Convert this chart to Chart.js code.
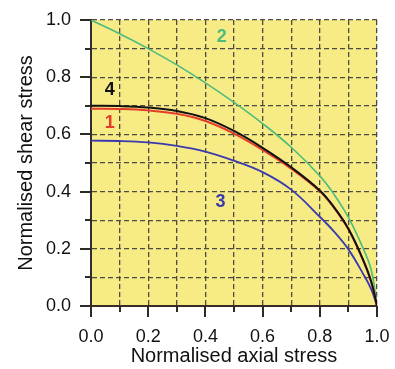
<!DOCTYPE html>
<html>
<head>
<meta charset="utf-8">
<script src="https://cdn.jsdelivr.net/npm/chart.js@4/dist/chart.umd.min.js"></script>
<style>
  body { margin: 0; background: #fff; }
</style>
</head>
<body>
<canvas id="stressChart" width="395" height="369"></canvas>
<script>
// axial stress samples, shared by every curve
const axial = [0, 0.1, 0.2, 0.3, 0.4, 0.5, 0.6, 0.7, 0.8, 0.85, 0.9, 0.95, 0.98, 1.0];

// shear stress for each criterion (curves 1..4)
const shear1 = [0.69, 0.689, 0.684, 0.672, 0.647, 0.603, 0.546, 0.48, 0.401, 0.343, 0.268, 0.163, 0.083, 0];
const shear2 = [1.0, 0.952, 0.900, 0.843, 0.780, 0.712, 0.638, 0.555, 0.455, 0.39, 0.31, 0.205, 0.125, 0];
const shear3 = [0.578, 0.577, 0.572, 0.560, 0.540, 0.508, 0.468, 0.407, 0.312, 0.26, 0.198, 0.115, 0.058, 0];
const shear4 = [0.70, 0.699, 0.694, 0.682, 0.657, 0.612, 0.553, 0.485, 0.404, 0.345, 0.27, 0.165, 0.085, 0];

const curveNames = ['1', '2', '3', '4'];
const curveColors = ['#e63d2a', '#4dbb7c', '#3a3aae', '#111111'];

// where each curve number is written (axis units)
const tagX = [0.066, 0.457, 0.453, 0.066];
const tagY = [0.639, 0.94, 0.364, 0.754];

const FONT = "'Liberation Sans', Arial, sans-serif";

function toPoints(ys) {
  return axial.map((x, i) => ({ x: x, y: ys[i] }));
}

function isMajor(v) {
  return Math.round(v * 10) % 2 === 0;
}

// keep the plot box fixed, labels may overhang into the margins
function fixBox(size, isX) {
  return s => {
    if (isX) s.height = size; else s.width = size;
    s.paddingLeft = s.paddingRight = s.paddingTop = s.paddingBottom = 0;
  };
}

// yellow plot area
const plotBackground = {
  id: 'plotBackground',
  beforeDraw(chart) {
    const { ctx, chartArea: a } = chart;
    ctx.save();
    ctx.fillStyle = '#f7eb86';
    ctx.fillRect(a.left, a.top, a.right - a.left, a.bottom - a.top);
    ctx.restore();
  }
};

// long ticks on 0.2 steps, short ones between
const tickMarks = {
  id: 'tickMarks',
  afterDraw(chart) {
    const { ctx, chartArea: a } = chart;
    const xs = chart.scales.x, ys = chart.scales.y;
    ctx.save();
    ctx.strokeStyle = '#2e2a26';
    ctx.lineWidth = 2;
    ctx.beginPath();
    xs.ticks.forEach(t => {
      const px = Math.round(xs.getPixelForValue(t.value));
      ctx.moveTo(px, a.bottom);
      ctx.lineTo(px, a.bottom + (isMajor(t.value) ? 11 : 6));
    });
    ys.ticks.forEach(t => {
      const py = Math.round(ys.getPixelForValue(t.value));
      ctx.moveTo(a.left, py);
      ctx.lineTo(a.left - (isMajor(t.value) ? 11 : 6), py);
    });
    ctx.stroke();
    ctx.restore();
  }
};

// curve numbers
const curveTags = {
  id: 'curveTags',
  afterDatasetsDraw(chart) {
    const { ctx } = chart;
    const xs = chart.scales.x, ys = chart.scales.y;
    ctx.save();
    ctx.font = 'bold 18px ' + FONT;
    ctx.textAlign = 'center';
    ctx.textBaseline = 'middle';
    curveNames.forEach((name, i) => {
      ctx.fillStyle = curveColors[i];
      ctx.fillText(name, xs.getPixelForValue(tagX[i]), ys.getPixelForValue(tagY[i]));
    });
    ctx.restore();
  }
};

const series = [shear1, shear2, shear3, shear4];
const drawOrder = [1, 3, 2, 0];
const widths = [2, 1.6, 1.8, 2];

const datasets = series.map((ys, i) => ({
  label: curveNames[i],
  data: toPoints(ys),
  borderColor: curveColors[i],
  borderWidth: widths[i],
  showLine: true,
  pointRadius: 0,
  tension: 0.4,
  order: drawOrder[i]
}));

const gridColor = ctx => (ctx.tick && ctx.tick.value === 0) ? 'rgba(0,0,0,0)' : '#4f4b44';

new Chart(document.getElementById('stressChart'), {
  type: 'scatter',
  data: { datasets: datasets },
  options: {
    responsive: false,
    animation: false,
    devicePixelRatio: 1,
    layout: { padding: { top: 20, right: 18, left: 0, bottom: 0 } },
    plugins: {
      legend: { display: false },
      tooltip: { enabled: false }
    },
    scales: {
      x: {
        type: 'linear',
        min: 0,
        max: 1,
        afterFit: fixBox(63, true),
        title: {
          display: true,
          text: 'Normalised axial stress',
          color: '#111',
          font: { family: FONT, size: 20 },
          padding: { top: 0, bottom: 1 }
        },
        ticks: {
          stepSize: 0.1,
          autoSkip: false,
          maxRotation: 0,
          padding: 20,
          color: '#111',
          font: { family: FONT, size: 18 },
          callback: v => isMajor(v) ? v.toFixed(1) : ''
        },
        grid: { drawTicks: false, color: gridColor, lineWidth: 1.3 },
        border: { display: true, color: '#3a2c22', width: 2, dash: [5, 3] }
      },
      y: {
        type: 'linear',
        min: 0,
        max: 1,
        afterFit: fixBox(91, false),
        title: {
          display: true,
          text: 'Normalised shear stress',
          color: '#111',
          font: { family: FONT, size: 20 },
          padding: { top: 14, bottom: 0 }
        },
        ticks: {
          stepSize: 0.1,
          autoSkip: false,
          padding: 20,
          color: '#111',
          font: { family: FONT, size: 18 },
          callback: v => isMajor(v) ? v.toFixed(1) : ''
        },
        grid: { drawTicks: false, color: gridColor, lineWidth: 1.3 },
        border: { display: true, color: '#2e2e2e', width: 2, dash: [5, 3] }
      }
    }
  },
  plugins: [plotBackground, tickMarks, curveTags]
});
</script>
</body>
</html>
